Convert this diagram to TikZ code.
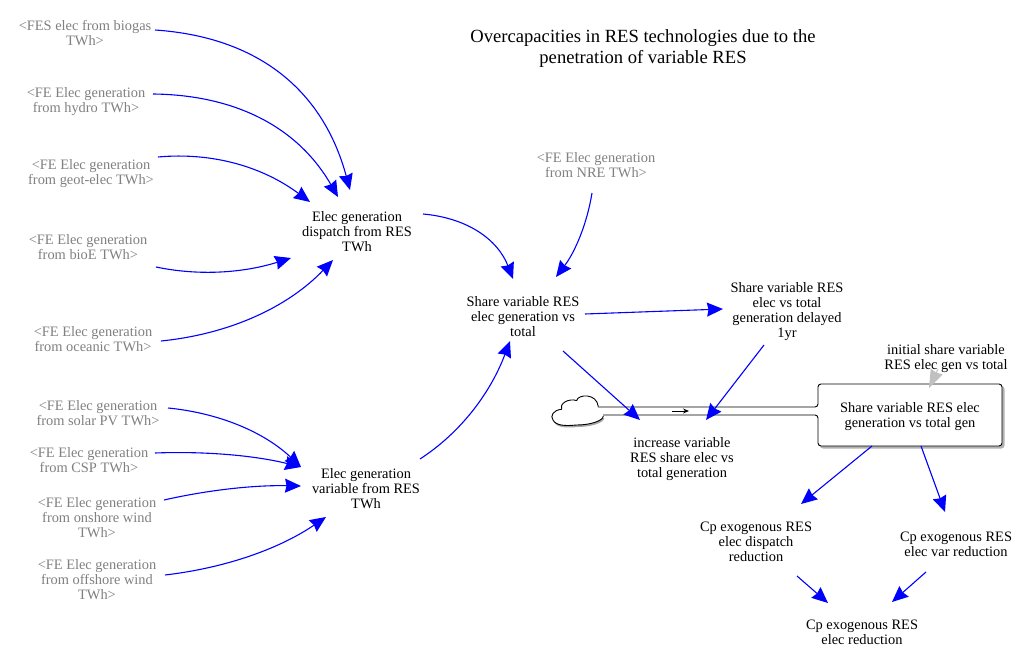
\documentclass[tikz,border=0pt]{standalone}
\usepackage{fontspec}
\setmainfont{Liberation Serif}
\usetikzlibrary{arrows.meta}
\definecolor{ghost}{RGB}{128,128,128}
\definecolor{linkblue}{RGB}{0,0,255}
\definecolor{ghostarrow}{RGB}{192,192,192}
\tikzset{
  lbl/.style={align=center,inner sep=0pt,text=black,font=\fontsize{14.4}{15}\selectfont},
  shadowvar/.style={lbl,text=ghost},
  titlelbl/.style={align=center,inner sep=0pt,font=\fontsize{18.6}{21}\selectfont},
  link/.style={draw=linkblue,line width=1.1pt,-{Stealth[length=16pt,width=14pt,inset=1.5pt]},fill=none},
  glink/.style={draw=ghostarrow,line width=1pt,-{Stealth[length=18pt,width=13pt,inset=1pt]}},
  pipe/.style={draw=black,line width=0.9pt,rounded corners=3pt},
}
\begin{document}
\begin{tikzpicture}[x=1pt,y=-1pt]
\useasboundingbox[fill=white] (0,0) rectangle (1021,655);
% texts
\node[titlelbl] (title) at (643,49) {Overcapacities in RES technologies due to the\\penetration of variable RES};
\node[shadowvar] (fes) at (85,33) {<FES elec from biogas\\TWh>};
\node[shadowvar] (hydro) at (86,102) {<FE Elec generation\\from hydro TWh>};
\node[shadowvar] (geot) at (91,174) {<FE Elec generation\\from geot-elec TWh>};
\node[shadowvar] (bioe) at (88,247) {<FE Elec generation\\from bioE TWh>};
\node[shadowvar] (ocean) at (93,339) {<FE Elec generation\\from oceanic TWh>};
\node[shadowvar] (nre) at (596,165) {<FE Elec generation\\from NRE TWh>};
\node[shadowvar] (solar) at (98,413) {<FE Elec generation\\from solar PV TWh>};
\node[shadowvar] (csp) at (89,460) {<FE Elec generation\\from CSP TWh>};
\node[shadowvar] (onsh) at (97,518) {<FE Elec generation\\from onshore wind\\TWh>};
\node[shadowvar] (offs) at (97,580) {<FE Elec generation\\from offshore wind\\TWh>};
\node[lbl] (disp) at (357,232) {Elec generation\\dispatch from RES\\TWh};
\node[lbl] (var) at (366,489) {Elec generation\\variable from RES\\TWh};
\node[lbl] (share) at (523,317) {Share variable RES\\elec generation vs\\total};
\node[lbl] (delayed) at (787,312) {Share variable RES\\elec vs total\\generation delayed\\1yr};
\node[lbl] (incr) at (682,459) {increase variable\\RES share elec vs\\total generation};
\node[lbl] (init) at (946,359) {initial share variable\\RES elec gen vs total};
\node[lbl] (cpd) at (756,542) {Cp exogenous RES\\elec dispatch\\reduction};
\node[lbl] (cpv) at (956,544) {Cp exogenous RES\\elec var reduction};
\node[lbl] (cpr) at (862,632) {Cp exogenous RES\\elec reduction};
% cloud
\path[fill=black!35,shift={(1,2)}] (603.3,416) .. controls (603,421) and (590,425) .. (576.7,425) .. controls (566,426) and (556,426) .. (553,420) -- (603,416) -- cycle;
\draw[fill=white,line width=0.9pt,line join=round] (603.3,416) .. controls (603,421) and (590,425) .. (576.7,425)
  .. controls (566,426) and (556,426) .. (553,420) .. controls (550,416) and (553,410) .. (561.7,409.3)
  .. controls (559,404) and (568,398) .. (576.7,400.5) .. controls (578,394) and (597,393) .. (598.3,406.7);
% stock and pipes
\fill[black!30,rounded corners=3pt] (820,386) rectangle (1004.5,448.5);
\fill[white] (598.5,407) -- (818,407) -- (818,415) -- (603,415) -- cycle;
\fill[white,rounded corners=3pt] (818,384) rectangle (1002,446);
\draw[pipe] (598,407) -- (818,407) -- (818,384) -- (1002,384) -- (1002,446) -- (818,446) -- (818,415) -- (603,415);
\node[lbl] (box) at (910,417) {Share variable RES elec\\generation vs total gen};
\draw[line width=0.9pt,-{Stealth[length=6pt,width=5pt]}] (672,411) -- (689,411);
% links
\draw[link] ([shift={(70,-3)}]fes.center) .. controls (258,37) and (323,90) .. ([shift={(-7,-42)}]disp.center);
\draw[link] ([shift={(67,-8)}]hydro.center) .. controls (238,95) and (299,129) .. ([shift={(-19,-35)}]disp.center);
\draw[link] ([shift={(67,-17)}]geot.center) .. controls (213,152) and (263,167) .. ([shift={(-47,-30)}]disp.center);
\draw[link] ([shift={(68,20)}]bioe.center) .. controls (199,276) and (243,273) .. ([shift={(-66,26)}]disp.center);
\draw[link] ([shift={(68,2)}]ocean.center) .. controls (230,334) and (288,307) .. ([shift={(-24,28)}]disp.center);
\draw[link] ([shift={(66,-18)}]disp.center) .. controls (468,218) and (498,240) .. ([shift={(-10,-38)}]share.center);
\draw[link] ([shift={(-4,28)}]nre.center) .. controls (587,224) and (575,252) .. ([shift={(33,-40)}]share.center);
\draw[link] ([shift={(54,-30)}]var.center) .. controls (460,433) and (490,394) .. ([shift={(-13,24)}]share.center);
\draw[link] ([shift={(62,-3)}]share.center) -- ([shift={(-64,-3)}]delayed.center);
\draw[link] ([shift={(40,34)}]share.center) -- ([shift={(-42,-39)}]incr.center);
\draw[link] ([shift={(-23,33)}]delayed.center) -- ([shift={(24,-39)}]incr.center);
\draw[link] ([shift={(70,-5)}]solar.center) .. controls (219,413) and (264,432) .. ([shift={(-65,-22)}]var.center);
\draw[link] ([shift={(66,-7)}]csp.center) .. controls (208,451) and (257,456) .. ([shift={(-65,-22)}]var.center);
\draw[link] ([shift={(67,-18)}]onsh.center) .. controls (208,490) and (254,485) .. ([shift={(-65,-3)}]var.center);
\draw[link] ([shift={(68,-5)}]offs.center) .. controls (225,568) and (279,549) .. ([shift={(-40,28)}]var.center);
\draw[link] ([shift={(-38,29)}]box.center) -- ([shift={(45,-38)}]cpd.center);
\draw[link] ([shift={(11,29)}]box.center) -- ([shift={(-11,-32)}]cpv.center);
\draw[link] ([shift={(41,34)}]cpd.center) -- ([shift={(-34,-29)}]cpr.center);
\draw[link] ([shift={(-30,28)}]cpv.center) -- ([shift={(30,-30)}]cpr.center);
\draw[glink] ([shift={(-8,10)}]init.center) -- ([shift={(19,-29)}]box.center);
\end{tikzpicture}
\end{document}
